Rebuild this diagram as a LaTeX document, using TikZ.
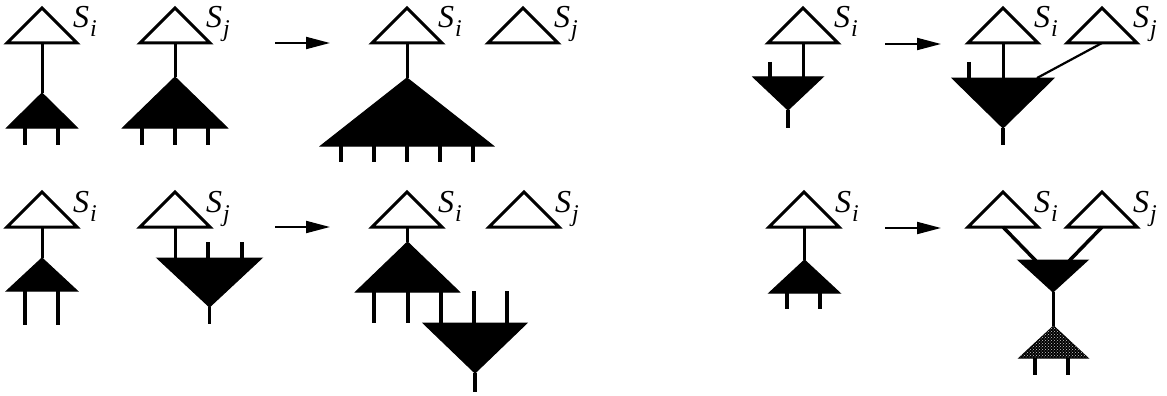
\documentclass[tikz,border=0pt]{standalone}
\usepackage{fontspec}
\setmainfont{Liberation Serif}
\usetikzlibrary{arrows.meta,patterns}

% sub-tree label such as S_i
\newcommand\tlabel[1]{{\fontsize{32}{32}\selectfont\itshape S}\kern1pt\raisebox{-9pt}{\fontsize{24}{24}\selectfont\itshape #1}}

% open (white) triangle: apex x, base y, subscript, node name
\newcommand\wtri[4]{%
  \draw[wtri] ({#1-35},#2) -- (#1,{#2-35}) -- ({#1+35},#2) -- cycle;
  \coordinate (#4) at (#1,#2);
  \node[lbl] (#4-l) at ({#1+31},{#2-15}) {\tlabel{#3}};}
% upright solid triangle: apex x, apex y, base y, half width
\newcommand\btri[5][solid]{%
  \fill[#1] ({#2-#5},#4) -- (#2,#3) -- ({#2+#5},#4) -- cycle;}
% inverted solid triangle: centre x, top y, apex y, half width
\newcommand\itri[4]{%
  \fill[solid] ({#1-#4},#2) -- (#1,#3) -- ({#1+#4},#2) -- cycle;}

\tikzset{
  wtri/.style={draw=black, line width=3pt, line join=miter, fill=white},
  solid/.style={fill=black, draw=black, line width=1pt, line join=miter},
  dotted fill/.style={fill=black, draw=black, line width=1pt, line join=miter,
    postaction={pattern=crosshatch dots, pattern color=white!80!black}},
  stem/.style={line width=3pt},
  leg/.style={line width=3.5pt},
  link/.style={line width=2.2pt},
  trans/.style={line width=2pt, -{Triangle[length=24pt,width=12pt]}},
  lbl/.style={anchor=base west, inner sep=0pt},
}

\begin{document}
\begin{tikzpicture}[x=1pt,y=-1pt]
\useasboundingbox (0,0) rectangle (1167,396);

%% ---------- merge of two upward sub-trees ----------
\wtri{42}{43}{i}{a1}
\wtri{175}{43}{j}{a2}
\draw[stem] (a1) -- (42,93);
\btri{42}{93}{128}{35.5}
\foreach \x in {25,58} \draw[leg] (\x,128) -- (\x,145);
\draw[stem] (a2) -- (175,77);
\btri{175}{77}{128}{52.5}
\foreach \x in {142,175,208} \draw[leg] (\x,128) -- (\x,145);

\coordinate (ar1s) at (275,43); \coordinate (ar1e) at (330,43);
\draw[trans] (ar1s) -- (ar1e);

\wtri{407}{43}{i}{a3}
\wtri{523}{43}{j}{a4}
\draw[stem] (a3) -- (407,78);
\btri{407}{78}{146}{86.5}
\foreach \x in {341,374,407,440,473} \draw[leg] (\x,146) -- (\x,162);

%% ---------- upward tree chained into a downward tree ----------
\wtri{42}{227}{i}{b1}
\wtri{175}{227}{j}{b2}
\draw[stem] (b1) -- (42,258);
\btri{42}{258}{291}{35.5}
\foreach \x in {25,58} \draw[leg] (\x,291) -- (\x,325);
\draw[stem] (b2) -- (175,258);
\itri{209.5}{258}{307}{52.5}
\foreach \x in {208,242} \draw[leg] (\x,242) -- (\x,258);
\draw[leg] (209.5,307) -- (209.5,324);

\coordinate (ar2s) at (275,227); \coordinate (ar2e) at (330,227);
\draw[trans] (ar2s) -- (ar2e);

\wtri{407}{227}{i}{b3}
\wtri{524}{227}{j}{b4}
\draw[stem] (b3) -- (407,242);
\btri{407.5}{242}{292}{52}
\foreach \x in {374,408,441} \draw[leg] (\x,292) -- (\x,323);
\itri{475}{323}{373}{52}
\foreach \x in {474,507} \draw[leg] (\x,291) -- (\x,323);
\draw[leg] (475,373) -- (475,392);

%% ---------- a second root joins a downward tree ----------
\wtri{803}{43}{i}{c1}
\draw[stem] (c1) -- (803,77);
\itri{788}{77}{110}{35}
\draw[leg] (770,62) -- (770,77);
\draw[leg] (788,110) -- (788,128);

\coordinate (ar3s) at (885,44); \coordinate (ar3e) at (941,44);
\draw[trans] (ar3s) -- (ar3e);

\wtri{1003}{43}{i}{c2}
\wtri{1102}{43}{j}{c3}
\draw[stem] (c2) -- (1003,78);
\itri{1003}{78}{128}{51}
\draw[leg] (969,62) -- (969,78);
\draw[leg] (1003,128) -- (1003,145);
\coordinate (c3e) at (1037,78);
\draw[link] (c3) -- (c3e);

%% ---------- two roots over a new downward node ----------
\wtri{804}{227}{i}{d1}
\draw[stem] (d1) -- (804,260);
\btri{804.5}{260}{293}{35.5}
\foreach \x in {787,820} \draw[leg] (\x,293) -- (\x,309);

\coordinate (ar4s) at (885,228); \coordinate (ar4e) at (941,228);
\draw[trans] (ar4s) -- (ar4e);

\wtri{1003}{227}{i}{d2}
\wtri{1102}{227}{j}{d3}
\coordinate (d2e) at (1036,261); \coordinate (d3e) at (1069,261);
\draw[stem, line width=3.5pt] (d2) -- (d2e);
\draw[stem, line width=3.5pt] (d3) -- (d3e);
\itri{1053}{260}{292}{35}
\draw[stem] (1053,292) -- (1053,326);
\btri[dotted fill]{1053.5}{326}{358}{34.5}
\foreach \x in {1035,1068} \draw[leg] (\x,358) -- (\x,375);
\end{tikzpicture}
\end{document}
